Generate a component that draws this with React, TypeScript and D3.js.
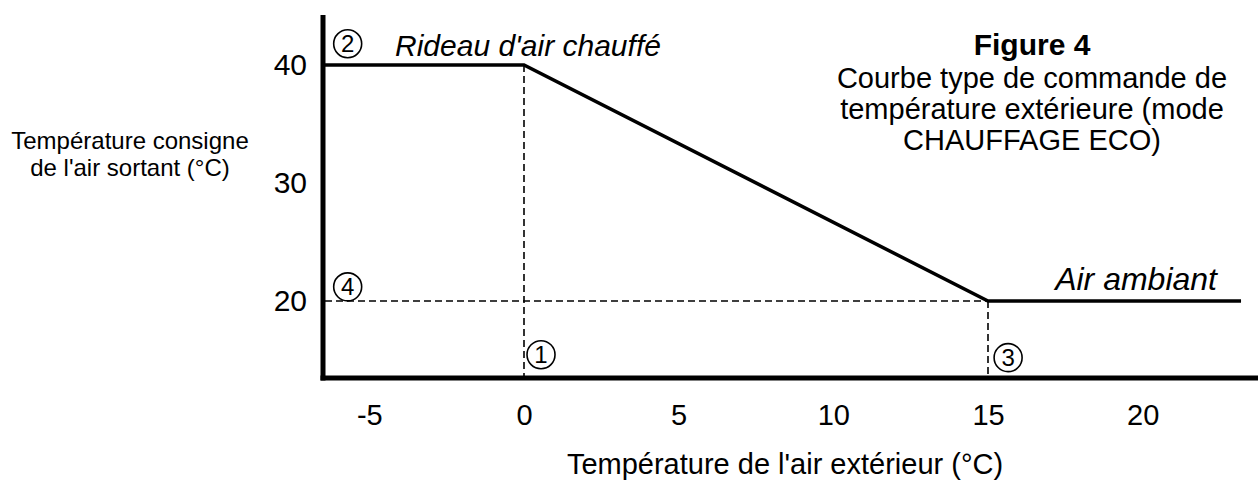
import { useEffect, useRef } from 'react';
import * as d3 from 'd3';

// outdoor temperature (°C) -> supply air setpoint (°C)
const outdoorTemps = [-6.5, 0, 15, 23.18];
const setpoints = [40, 40, 20, 20];
const xTicks = [-5, 0, 5, 10, 15, 20];
const yTicks = [20, 30, 40];
// reference points marked with circled numbers
const markerLabels = ['1', '2', '3', '4'];
const markerX = [0.55, -5.7, 15.65, -5.7];
const markerY = [15.45, 41.8, 15.2, 21.2];
const titleLines = ['Courbe type de commande de', 'température extérieure (mode', 'CHAUFFAGE ECO)'];
const yTitleLines = ['Température consigne', "de l'air sortant (°C)"];

const W = 1258;
const H = 481;

const App = () => {
  const svgRef = useRef<SVGSVGElement>(null);

  useEffect(() => {
    const svg = d3.select(svgRef.current);
    svg.selectAll('*').remove();

    const x = d3.scaleLinear().domain([0, 15]).range([524, 988]);
    const y = d3.scaleLinear().domain([20, 40]).range([301, 65]);
    const font = 'Liberation Sans, Arial, sans-serif';
    const axisX = 323;
    const axisY = 378;

    // x tick labels
    const gx = svg.append('g')
      .attr('transform', `translate(0,${axisY})`)
      .call(d3.axisBottom(x).tickValues(xTicks).tickSize(0).tickPadding(26).tickFormat(d => String(d)));
    gx.select('.domain').remove();
    gx.selectAll('text').attr('font-size', 29).attr('font-family', font).attr('fill', '#000');

    // y tick labels
    const gy = svg.append('g')
      .attr('transform', `translate(${axisX},0)`)
      .call(d3.axisLeft(y).tickValues(yTicks).tickSize(0).tickPadding(16).tickFormat(d => String(d)));
    gy.select('.domain').remove();
    gy.selectAll('text').attr('font-size', 30).attr('font-family', font).attr('fill', '#000');

    // dashed guides
    const dash = svg.append('g').attr('stroke', '#000').attr('stroke-width', 1.6).attr('stroke-dasharray', '7,4');
    dash.append('line').attr('x1', x(0)).attr('x2', x(0)).attr('y1', y(40)).attr('y2', axisY);
    dash.append('line').attr('x1', x(15)).attr('x2', x(15)).attr('y1', y(20)).attr('y2', axisY);
    dash.append('line').attr('x1', axisX + 2).attr('x2', x(15)).attr('y1', y(20)).attr('y2', y(20));

    // control curve
    const line = d3.line<number>().x((_, i) => x(Math.max(outdoorTemps[i], x.invert(axisX)))).y(d => y(d));
    svg.append('path')
      .datum(setpoints)
      .attr('d', line)
      .attr('fill', 'none')
      .attr('stroke', '#000')
      .attr('stroke-width', 3.5);

    // axes
    svg.append('line').attr('x1', axisX).attr('x2', axisX).attr('y1', 15).attr('y2', axisY + 2.5)
      .attr('stroke', '#000').attr('stroke-width', 5);
    svg.append('line').attr('x1', axisX - 2.5).attr('x2', W).attr('y1', axisY).attr('y2', axisY)
      .attr('stroke', '#000').attr('stroke-width', 5);

    // circled markers
    markerLabels.forEach((m, i) => {
      const cx = x(markerX[i]);
      const cy = y(markerY[i]);
      svg.append('circle').attr('cx', cx).attr('cy', cy).attr('r', 14)
        .attr('fill', 'none').attr('stroke', '#000').attr('stroke-width', 1.6);
      svg.append('text').attr('x', cx).attr('y', cy + 8.5).attr('text-anchor', 'middle')
        .attr('font-size', 24).attr('font-family', font).text(m);
    });

    // annotations
    svg.append('text').attr('x', 395).attr('y', 56).attr('font-size', 30).attr('font-style', 'italic')
      .attr('font-family', font).text("Rideau d'air chauffé");
    svg.append('text').attr('x', 1217).attr('y', 290).attr('text-anchor', 'end').attr('font-size', 32)
      .attr('font-style', 'italic').attr('font-family', font).text('Air ambiant');

    // title block
    svg.append('text').attr('x', 1032).attr('y', 55).attr('text-anchor', 'middle').attr('font-size', 30)
      .attr('font-weight', 'bold').attr('font-family', font).text('Figure 4');
    titleLines.forEach((t, i) => {
      svg.append('text').attr('x', 1032).attr('y', 88 + i * 31).attr('text-anchor', 'middle')
        .attr('font-size', 29).attr('font-family', font).text(t);
    });

    // axis titles
    yTitleLines.forEach((t, i) => {
      svg.append('text').attr('x', 130).attr('y', 149 + i * 27).attr('text-anchor', 'middle')
        .attr('font-size', 24).attr('font-family', font).text(t);
    });
    svg.append('text').attr('x', 785).attr('y', 474).attr('text-anchor', 'middle').attr('font-size', 29)
      .attr('font-family', font).text("Température de l'air extérieur (°C)");
  }, []);

  return (
    <svg ref={svgRef} width={W} height={H}
      style={{ position: 'absolute', left: 0, top: 0, background: '#fff' }} />
  );
};

export default App;
